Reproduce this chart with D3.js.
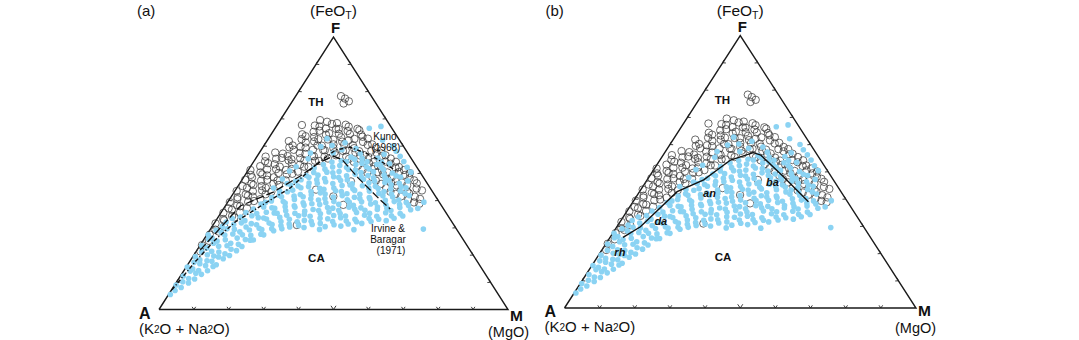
<!DOCTYPE html>
<html><head><meta charset="utf-8">
<script src="https://cdn.jsdelivr.net/npm/d3@7"></script>
<style>body{margin:0;background:#fff}svg{display:block}text{font-family:"Liberation Sans",Arial,Helvetica,sans-serif;fill:#111}</style>
</head><body><svg id="c" width="1079" height="340"></svg>
<script>
// Ternary data as [F, M] in percent (A = 100 - F - M)
const thoPoints = [
[21.3,1.2],[23.6,0.5],[25.2,1.7],[27.5,0.8],[29.3,1.5],[31.6,0.4],[33.2,1.8],[35.5,0.7],[37.1,1.4],[39.4,0.6],[41.2,1.9],[43.5,0.5],[45.3,1.3],[47.6,0.9],[49.4,1.6],[51.2,0.6],
[28.6,2.8],[30.4,3.5],[32.7,2.3],[34.3,3.8],[36.6,2.6],[38.2,3.3],[40.5,2.2],[42.3,3.7],[44.6,2.9],[46.2,3.4],[48.5,2.4],[50.3,3.9],[52.6,2.7],[54.4,3.2],[56.1,2.5],
[33.8,4.7],[35.6,5.4],[37.9,4.3],[39.5,5.8],[41.8,4.6],[43.4,5.2],[45.7,4.2],[47.3,5.6],[49.6,4.8],[51.4,5.3],[53.7,4.4],[55.3,5.9],[57.6,4.5],
[37.2,6.6],[39.8,7.3],[41.4,6.2],[43.7,7.7],[45.3,6.8],[47.6,7.2],[49.2,6.4],[51.5,7.8],[53.3,6.5],[55.6,7.4],[57.2,6.9],[59.5,7.6],[61.8,6.3],[67.7,7.1],
[40.5,8.8],[42.3,9.4],[44.6,8.3],[46.2,9.7],[48.5,8.6],[50.1,9.2],[52.4,8.4],[54.7,9.8],[56.3,8.7],[58.6,9.3],[60.2,8.2],[62.5,9.6],[64.3,8.9],
[43.2,10.6],[45.7,11.5],[47.3,10.3],[49.6,11.8],[51.2,10.8],[53.5,11.3],[55.1,10.4],[57.4,11.6],[59.7,10.7],[61.3,11.4],[63.6,10.2],[65.2,11.7],[67.5,10.9],[69.5,11.4],
[47.4,12.6],[49.8,13.3],[51.6,12.2],[53.2,13.8],[55.5,12.7],[57.1,13.4],[59.4,12.3],[61.7,13.6],[63.3,12.8],[65.6,13.2],[67.2,12.4],[68.9,13.7],
[50.6,14.5],[52.4,15.4],[54.7,14.3],[56.3,15.7],[58.6,14.8],[60.2,15.3],[62.5,14.4],[64.1,15.8],[66.4,14.6],[68.1,15.5],
[52.3,16.7],[54.6,17.4],[56.2,16.3],[58.5,17.8],[60.1,16.6],[62.4,17.2],[64.7,16.4],[66.3,17.6],[68.4,16.8],
[54.5,18.6],[56.1,19.4],[58.4,18.3],[60.6,19.7],[62.3,18.8],[64.5,19.3],[66.2,18.4],[67.8,19.6],
[55.4,20.7],[57.7,21.5],[59.3,20.3],[61.6,21.7],[63.2,20.6],[65.5,21.3],[67.1,20.8],
[56.6,22.4],[58.2,23.6],[60.5,22.8],[62.1,23.3],[64.4,22.5],[66.3,23.7],
[56.1,25.6],[58.4,24.3],[60.3,25.4],[62.6,24.7],[64.2,25.8],[65.8,24.5],
[55.3,26.8],[57.6,27.5],[59.2,26.3],[61.5,27.7],[63.4,26.6],
[54.2,28.7],[56.5,29.4],[58.1,28.3],[60.4,29.6],[62.7,28.5],
[52.8,30.6],[54.4,31.5],[56.7,30.3],[58.3,31.7],[60.6,30.8],
[51.3,32.7],[53.6,33.4],[55.2,32.3],[57.5,33.6],[59.1,32.8],
[50.2,34.6],[52.5,35.4],[54.1,34.3],[56.4,35.7],[58.3,34.5],
[48.6,36.8],[50.4,37.5],[52.7,36.4],[54.3,37.7],[56.6,36.6],
[47.3,38.5],[49.6,39.4],[51.2,38.3],[53.5,39.6],[55.4,38.7],
[46.1,40.6],[47.8,41.5],[50.3,40.3],[52.1,41.7],[54.2,40.8],
[44.6,42.8],[46.4,43.3],[48.7,42.4],[50.5,43.6],[52.3,42.6],
[43.2,44.7],[45.5,45.4],[47.1,44.3],[49.4,45.8],[51.2,44.6],
[42.4,46.6],[44.1,47.4],[46.6,46.3],[48.2,47.7],[50.1,46.8],
[41.5,48.6],[43.3,49.5],[45.6,48.3],[47.4,49.4],
[40.2,51.3],[42.6,50.4],[44.4,51.6],[46.3,50.7],
[39.3,53.4],[41.4,52.6],[43.7,53.5],
[38.8,55.2],[40.6,54.5],
[31,24],[44,23],[41.5,29.2],[38.4,33.6],[47,31.5],
[78.3,13],[76.4,16.2],[77.4,14.6],[75.6,15.1]
];
const caPoints = [
[5.5,0.5],[7,1.1],[9,0.4],[10.2,1.7],[12.3,0.8],[14.1,1.9],[15.6,0.3],[17.3,1.4],[19.4,0.7],[21.2,1.6],[23.5,0.5],[25.8,1.3],[27.4,0.4],[29.1,1.8],
[8.1,2.3],[9.7,3.6],[11.4,2.8],[13.3,3.9],[14.9,2.2],[16.8,3.3],[18.2,2.6],[20.1,3.8],[22.6,2.4],[24.3,3.5],[26.2,2.1],[28.3,3.7],[30.4,2.9],[32.1,3.2],
[11.2,4.6],[12.9,5.7],[14.3,4.2],[16.1,5.3],[17.9,4.8],[19.6,5.9],[21.4,4.4],[23.2,5.5],[25.1,4.1],[27.3,5.2],[29.6,4.7],[31.2,5.8],[33.4,4.3],
[14.2,6.8],[15.8,7.6],[17.7,6.3],[19.3,7.4],[21.1,6.6],[23.4,7.8],[25.6,6.2],[27.7,7.3],[29.4,6.9],[31.8,7.7],[33.9,6.4],[35.6,7.1],
[16.4,8.2],[18.6,9.1],[20.4,8.7],[22.1,9.6],[24.3,8.4],[26.2,9.3],[28.5,8.9],[30.3,9.8],[32.6,8.3],[34.4,9.4],[36.9,8.6],[38.7,9.9],
[19.8,10.3],[21.6,11.4],[23.9,10.8],[25.7,11.9],[27.4,10.2],[29.2,11.3],[31.5,10.7],[33.7,11.6],[35.2,10.4],[37.6,11.2],[39.3,10.9],[41.1,11.8],[44.6,10.5],[47.9,11.4],[50.8,12],
[23.1,12.2],[25.4,13.4],[27.2,12.7],[29.8,13.8],[31.1,12.4],[33.6,13.2],[35.7,12.9],[37.3,13.7],[39.8,12.3],[41.9,13.5],[43.5,12.8],[46.2,13.6],[52.4,13.1],
[25.5,14.3],[27.6,15.4],[29.3,14.8],[31.7,15.7],[33.2,14.2],[35.4,15.3],[37.1,14.6],[39.6,15.8],[41.4,14.4],[43.2,15.2],[45.7,14.9],[47.1,15.6],[55.3,15.1],[57.4,14.7],
[27.4,16.3],[29.6,17.5],[31.2,16.8],[33.8,17.7],[35.3,16.2],[37.7,17.3],[39.1,16.6],[41.6,17.9],[43.8,16.4],[45.3,17.2],[47.6,16.9],[49.2,17.6],[59.8,16.5],[62.7,16.8],
[28.9,18.4],[30.7,19.6],[32.3,18.8],[34.6,19.3],[36.2,18.2],[38.1,19.7],[40.4,18.6],[42.2,19.4],[44.7,18.3],[46.4,19.8],[48.5,18.7],[50.3,19.2],[51.9,18.5],[60.2,19.5],
[29.6,20.4],[31.4,21.6],[33.1,20.8],[35.3,21.3],[37.5,20.2],[39.2,21.7],[41.4,20.6],[43.3,21.9],[45.1,20.3],[47.6,21.4],[49.3,20.9],[51.5,21.8],[53.2,20.5],[57.4,21.2],
[30.3,22.3],[32.2,23.5],[34.4,22.8],[36.1,23.7],[38.3,22.4],[40.6,23.2],[42.1,22.6],[44.5,23.8],[46.3,22.2],[48.1,23.4],[50.4,22.9],[52.3,23.6],[54.1,22.5],[58.6,23.1],[61.2,22.7],
[30.8,24.6],[32.7,25.3],[34.9,24.2],[36.7,25.8],[38.8,24.4],[40.2,25.6],[42.8,24.8],[44.1,25.2],[46.9,24.3],[48.7,25.7],[50.2,24.7],[52.8,25.4],[54.6,24.9],
[30.1,26.5],[32.4,27.4],[34.2,26.2],[36.3,27.6],[38.5,26.8],[40.7,27.2],[42.4,26.4],[44.6,27.8],[46.2,26.7],[48.4,27.3],[50.6,26.3],[52.1,27.7],[54.3,26.6],[55.9,27.1],[59.1,26.9],[66.5,27],
[31.2,28.3],[33.5,29.4],[35.1,28.7],[37.4,29.6],[39.2,28.2],[41.3,29.3],[43.6,28.8],[45.5,29.7],[47.3,28.4],[49.1,29.2],[51.4,28.6],[53.2,29.8],[55.1,28.5],[57.2,29.1],[67.2,30],
[29.4,31.3],[31.6,30.4],[33.3,31.7],[35.8,30.8],[37.2,31.2],[39.6,30.3],[41.8,31.6],[43.3,30.6],[45.7,31.9],[47.5,30.2],[49.6,31.4],[51.2,30.7],[53.7,31.3],[55.4,30.5],
[30.4,32.4],[32.3,33.6],[34.5,32.8],[36.4,33.3],[38.6,32.2],[40.3,33.8],[42.5,32.6],[44.3,33.4],[46.1,32.3],[48.6,33.7],[50.3,32.7],[52.4,33.2],[54.2,32.5],[62.1,33],
[31.1,34.6],[33.7,35.2],[35.2,34.3],[37.5,35.7],[39.4,34.8],[41.2,35.4],[43.7,34.2],[45.4,35.6],[47.8,34.7],[49.2,35.3],[51.6,34.4],[53.3,35.8],[55.6,34.9],
[30.6,36.8],[32.5,37.4],[34.3,36.3],[36.8,37.7],[38.2,36.6],[40.7,37.2],[42.3,36.4],[44.6,37.8],[46.5,36.9],[48.3,37.3],[50.5,36.2],[52.2,37.6],[54.1,36.7],[57,36],
[31.4,38.5],[33.1,39.6],[35.6,38.8],[37.3,39.2],[39.5,38.3],[41.1,39.7],[43.4,38.6],[45.2,39.4],[47.1,38.2],[49.4,39.8],[51.3,38.7],[53.5,39.3],[58.1,38.9],[60,37],
[29.3,41.2],[32.2,40.5],[34.6,41.6],[36.4,40.8],[38.7,41.3],[40.5,40.2],[42.6,41.7],[44.4,40.6],[46.6,41.4],[48.2,40.7],[50.1,41.8],[56.2,41],
[31.6,42.3],[33.4,43.5],[35.3,42.7],[37.6,43.8],[39.2,42.4],[41.7,43.3],[43.3,42.8],[45.8,43.6],[47.4,42.2],[49.1,43.4],[54.3,43],
[32.3,44.6],[34.2,45.3],[36.7,44.2],[38.4,45.8],[40.1,44.8],[42.4,45.4],[44.2,44.3],[46.3,45.7],[48.6,44.9],[52.2,45],
[33.1,46.4],[35.5,47.2],[37.2,46.7],[39.6,47.6],[41.3,46.3],[43.5,47.4],[45.1,46.8],[47.2,47.7],[50.4,47],
[32.6,48.8],[34.4,49.4],[36.3,48.3],[38.5,49.7],[40.2,48.6],[42.6,49.2],[44.7,48.4],
[33.5,50.6],[35.2,51.5],[37.4,50.3],[39.3,51.2],[41.8,50.8],
[34.3,52.7],[36.6,53.8],[38.2,52.4],
[37.1,55.6],[39.4,56.2],
[29.5,61]
];
const kunoLine = [[7.2,0.1],[17.4,1.6],[25.5,3.3],[32.1,5.8],[38.3,10.4],[44.6,15.3],[53,18.3],[58.5,21.3],[59.6,25],[56.7,32.2],[50.5,43.3]];
const irvineLine = [[21.8,0.9],[38,4.3],[43.1,11.2],[49,16],[54.1,19.1],[56.3,21.8],[54.9,25.1],[48.3,32.9],[40.2,43.3],[36.9,47.8]];
const thcaLine = [[25.9,3.7],[29.8,6.7],[42.7,10.7],[47,16.1],[54.3,20.1],[57,25.2],[56.1,27.8],[48.2,38.2],[39,49.9]];
const tickValues = [10,20,30,40,50,60,70,80,90];
const rockLabels = [{t:"rh",f:20.7,m:5.4},{t:"da",f:32,m:11.4},{t:"an",f:42.3,m:20.1},{t:"ba",f:46.3,m:36}];
const fieldLabels = [{t:"TH",f:76.3,m:6.8},{t:"CA",f:18.8,m:35.7}];

const svg = d3.select("#c");
const panels = [
  {id:"a", x0:159, x1:508, y0:309.5, y1:37},
  {id:"b", x0:564.5, x1:916, y0:308, y1:35.5}
];
const BLUE = "#8bd3f3";

panels.forEach(p => {
  const sx = d3.scaleLinear().domain([0,100]).range([p.x0, p.x1]);
  const sy = d3.scaleLinear().domain([0,100]).range([p.y0, p.y1]);
  const X = d => sx(d[1] + d[0]/2), Y = d => sy(d[0]);
  const g = svg.append("g");
  const tri = [[0,0],[100,0],[0,100]];
  g.append("path").attr("d", d3.line().x(X).y(Y)(tri.concat([tri[0]])))
    .attr("fill","none").attr("stroke","#1a1a1a").attr("stroke-width",1.4);
  const edges = [
    {p:v=>[0,v], n:[0,-1]},
    {p:v=>[v,0], n:[0.866,-0.5]},
    {p:v=>[v,100-v], n:[-0.866,-0.5]}
  ];
  edges.forEach(e => {
    tickValues.forEach(v => {
      const pt = e.p(v), cx = X(pt), cy = Y(pt);
      const L = v===50 && e.n[0]===0 ? 4.5 : 3.2, a = 0.6;
      const nx = e.n[0], ny = e.n[1];
      const r1 = [nx*Math.cos(a)-ny*Math.sin(a), nx*Math.sin(a)+ny*Math.cos(a)];
      const r2 = [nx*Math.cos(-a)-ny*Math.sin(-a), nx*Math.sin(-a)+ny*Math.cos(-a)];
      g.append("path").attr("d", `M${cx+r1[0]*L},${cy+r1[1]*L}L${cx},${cy}L${cx+r2[0]*L},${cy+r2[1]*L}`)
        .attr("fill","none").attr("stroke","#222").attr("stroke-width",0.9);
    });
  });
  g.append("g").selectAll("circle").data(thoPoints).join("circle")
    .attr("cx",X).attr("cy",Y).attr("r",3.7)
    .attr("fill","none").attr("stroke","#3a3a3a").attr("stroke-width",0.75);
  g.append("g").selectAll("circle").data(caPoints).join("circle")
    .attr("cx",X).attr("cy",Y).attr("r",2.8).attr("fill",BLUE);
  const line = d3.line().x(X).y(Y);
  if (p.id==="a") {
    g.append("path").attr("d", line(kunoLine)).attr("fill","none").attr("stroke","#111")
      .attr("stroke-width",1.4).attr("stroke-dasharray","4,2,1.2,2");
    g.append("path").attr("d", line(irvineLine)).attr("fill","none").attr("stroke","#111")
      .attr("stroke-width",1.3).attr("stroke-dasharray","8,3");
  } else {
    g.append("path").attr("d", line(thcaLine)).attr("fill","none").attr("stroke","#111").attr("stroke-width",1.4);
    g.selectAll("text.rock").data(rockLabels).join("text").attr("class","rock")
      .attr("x", d=>X([d.f,d.m])).attr("y", d=>Y([d.f,d.m])+4)
      .attr("text-anchor","middle").attr("font-size",11).attr("font-weight","bold").attr("font-style","italic")
      .text(d=>d.t);
  }
  g.selectAll("text.field").data(fieldLabels).join("text").attr("class","field")
    .attr("x", d=>X([d.f,d.m])).attr("y", d=>Y([d.f,d.m])+4).attr("text-anchor","middle")
    .attr("font-size",11.5).attr("font-weight","bold").text(d=>d.t);
  const fx = sx(50);
  const t1 = g.append("text").attr("x", fx).attr("y", 16).attr("text-anchor","middle").attr("font-size",15.5);
  t1.append("tspan").text("(FeO");
  t1.append("tspan").attr("font-size",10.5).attr("dy",3).text("T");
  t1.append("tspan").attr("dy",-3).text(")");
  g.append("text").attr("x", fx+2).attr("y", p.y1-4).attr("text-anchor","middle")
    .attr("font-size",15).attr("font-weight","bold").text("F");
  g.append("text").attr("x", p.x0-20).attr("y", p.y0+9).attr("font-size",16).attr("font-weight","bold").text("A");
  const t2 = g.append("text").attr("x", p.x0-20).attr("y", p.y0+24).attr("font-size",15);
  t2.append("tspan").text("(K");
  t2.append("tspan").attr("font-size",10).attr("dy",-1).text("2");
  t2.append("tspan").attr("dy",1).text("O + Na");
  t2.append("tspan").attr("font-size",10).attr("dy",-1).text("2");
  t2.append("tspan").attr("dy",1).text("O)");
  g.append("text").attr("x", p.x1+2).attr("y", p.y0+ (p.id==="a"?11:8)).attr("font-size",15.5).attr("font-weight","bold").text("M");
  g.append("text").attr("x", p.x1+ (p.id==="a"?-20:-21)).attr("y", p.y0+ (p.id==="a"?27:25)).attr("font-size",14.5).text("(MgO)");
  g.append("text").attr("x", p.x0 - (p.id==="a"?22:19)).attr("y", 16).attr("font-size",15).text("(" + p.id + ")");
  if (p.id==="a") {
    const k = g.append("text").attr("font-size",10).attr("text-anchor","middle");
    k.append("tspan").attr("x",385).attr("y",140).text("Kuno");
    k.append("tspan").attr("x",386).attr("y",151).text("(1968)");
    const ib = g.append("text").attr("font-size",10).attr("text-anchor","middle");
    ib.append("tspan").attr("x",388).attr("y",232).text("Irvine &");
    ib.append("tspan").attr("x",388).attr("y",243).text("Baragar");
    ib.append("tspan").attr("x",391).attr("y",254).text("(1971)");
  }
});
</script></body></html>
